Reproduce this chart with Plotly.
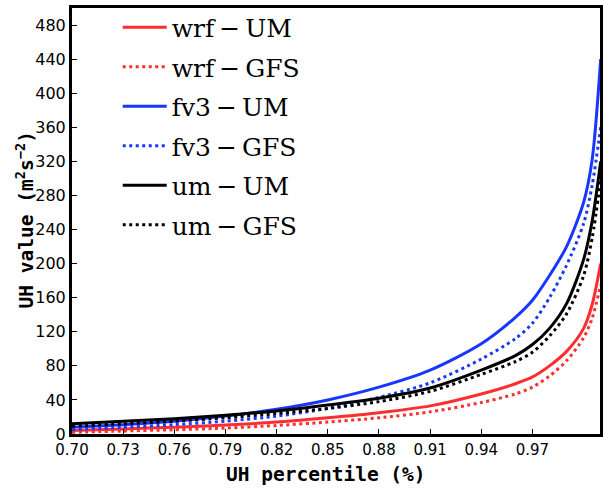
import plotly.graph_objects as go

# percentile positions (axis units) and values
pct = [0.70, 0.73, 0.76, 0.79, 0.82, 0.85, 0.88, 0.91, 0.94, 0.96, 0.97, 0.98, 0.99, 1.00, 1.005, 1.01]

wrf_um  = [4, 6, 8, 10.5, 14, 19, 25, 33, 47, 59, 67, 80, 97, 124, 152, 200]
wrf_gfs = [2, 3.5, 5, 7, 10, 14, 19, 26, 37, 47, 55, 68, 86, 113, 136, 175]
fv3_um  = [8, 11, 15, 21, 29, 40, 55, 75, 106, 137, 157, 186, 220, 272, 322, 440]
fv3_gfs = [5, 8, 11, 15, 21, 30, 43, 60, 88, 112, 130, 160, 198, 247, 292, 360]
um_um   = [12, 15, 18, 22, 27, 34, 42, 54, 75, 92, 105, 124, 153, 205, 250, 320]
um_gfs  = [9, 12, 15, 19, 24, 30, 38, 50, 70, 85, 96, 115, 141, 186, 230, 298]

names = ["wrf\u2009\u2212\u2009UM", "wrf\u2009\u2212\u2009GFS", "fv3\u2009\u2212\u2009UM",
         "fv3\u2009\u2212\u2009GFS", "um\u2009\u2212\u2009UM", "um\u2009\u2212\u2009GFS"]
series = [wrf_um, wrf_gfs, fv3_um, fv3_gfs, um_um, um_gfs]
colors = ["#ff2d2d", "#ff2d2d", "#1737ff", "#1737ff", "#000000", "#000000"]
dashes = ["solid", "3px,3.5px", "solid", "3px,3.5px", "solid", "3px,3.5px"]

xticks = [0.70, 0.73, 0.76, 0.79, 0.82, 0.85, 0.88, 0.91, 0.94, 0.97]
yticks = list(range(0, 481, 40))

fig = go.Figure()
for i, (nm, ys, c, d) in enumerate(zip(names, series, colors, dashes)):
    fig.add_trace(go.Scatter(x=pct, y=ys, mode="lines", name=nm, legendgroup=str(i),
                             line=dict(color=c, width=3, dash=d, shape="spline", smoothing=0.8)))

serif = "DejaVu Serif"
mono = "DejaVu Sans Mono"
fig.update_layout(
    width=603, height=488,
    margin=dict(l=72, r=0, t=8, b=54),
    plot_bgcolor="white", paper_bgcolor="white",
    showlegend=True,
    legend=dict(x=0.0866, y=1.008, xanchor="left", yanchor="top",
                font=dict(family=serif, size=25, color="black"),
                bgcolor="rgba(0,0,0,0)", tracegroupgap=4, itemwidth=44),
    xaxis=dict(range=[0.70, 1.0096], tickvals=xticks, ticktext=[f"{v:.2f}" for v in xticks],
               ticks="inside", ticklen=5, tickwidth=1, tickcolor="black",
               showline=True, linewidth=3, linecolor="black", mirror=True,
               showgrid=False, zeroline=False,
               tickfont=dict(family="DejaVu Sans", size=15, color="black")),
    yaxis=dict(range=[0, 500], tickvals=yticks,
               ticks="inside", ticklen=5, tickwidth=1, tickcolor="black",
               showline=True, linewidth=3, linecolor="black", mirror=True,
               showgrid=False, zeroline=False,
               tickfont=dict(family="DejaVu Sans", size=16, color="black")),
    annotations=[
        dict(text="<b>UH percentile (%)</b>", xref="paper", yref="paper", x=0.482, y=-0.096,
             xanchor="center", yanchor="middle", showarrow=False,
             font=dict(family=mono, size=19.5, color="black")),
        dict(text="<b>UH value (m<sup>2</sup>s<sup>\u22122</sup>)</b>", xref="paper", yref="paper",
             x=-0.0885, y=0.502, xanchor="center", yanchor="middle", textangle=-90,
             showarrow=False, font=dict(family=mono, size=19.5, color="black")),
    ],
)
fig.write_html("out.html")
